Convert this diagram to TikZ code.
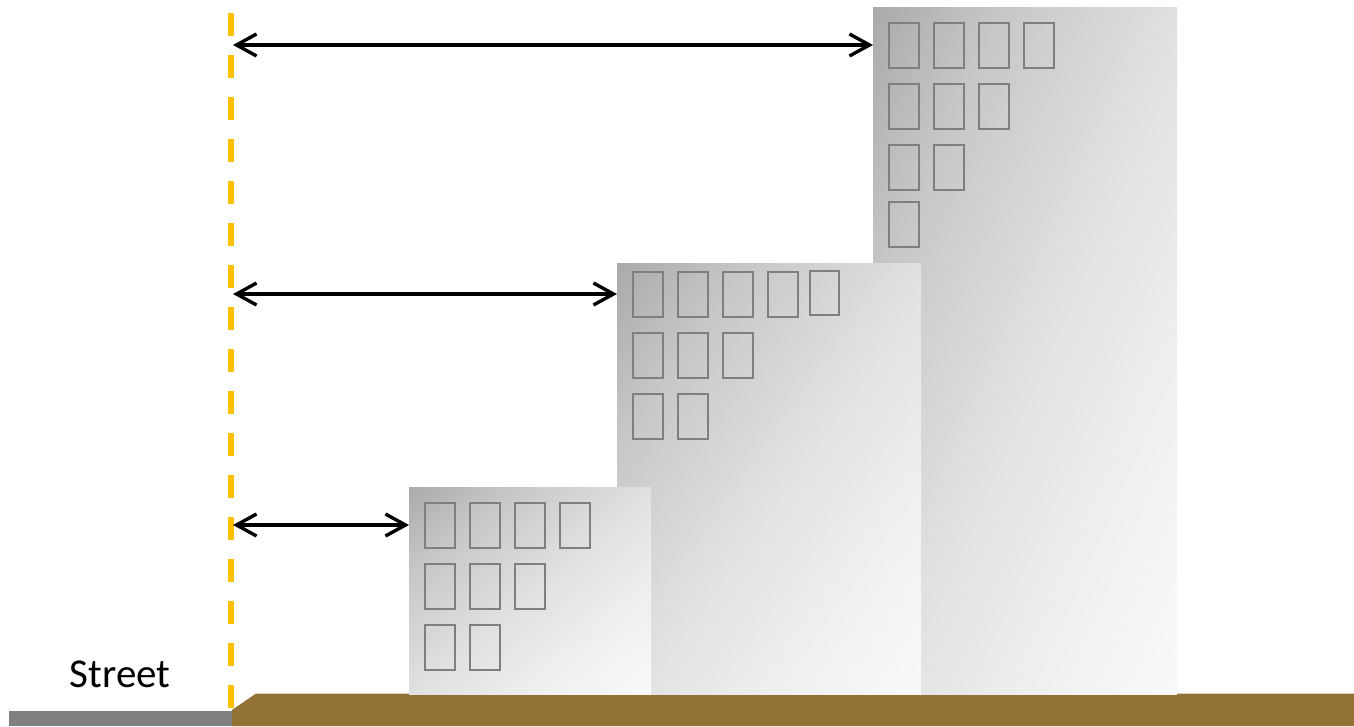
\documentclass[tikz,border=0pt]{standalone}
\usepackage{fontspec}
\setmainfont{Carlito}
\usetikzlibrary{arrows.meta}

\definecolor{facA}{HTML}{AAAAAA}
\definecolor{facB}{HTML}{C6C7C8}
\definecolor{facC}{HTML}{DEE0E2}
\definecolor{facD}{HTML}{EEEFF0}
\definecolor{facE}{HTML}{F8F9F9}
\definecolor{winGray}{HTML}{7F7F7F}
\definecolor{setbackYellow}{HTML}{FFC000}
\definecolor{groundBrown}{HTML}{937335}
\definecolor{streetGray}{HTML}{808080}

% diagonal silver facade gradient; on a square shaded at -45 degrees
% the corners fall at 14.6bp (top left) and 85.4bp (bottom right)
\pgfdeclarehorizontalshading{facade}{100bp}{%
  color(0bp)=(facA); color(14.6bp)=(facA); color(29.5bp)=(facB);
  color(50bp)=(facC); color(67.7bp)=(facD); color(85.4bp)=(facE);
  color(100bp)=(facE)}

% shade a 100x100 square, stretched onto the frame of a building node
\newcommand\paintfacade[3]{%
  \begin{scope}[transform canvas={shift={(#1.north west)}, xscale=#2, yscale=#3}]
    \shade[shading=facade, shading angle=-45] (0,0) rectangle (100,100);
  \end{scope}}

\tikzset{
  building/.style={inner sep=0pt, outer sep=0pt, anchor=north west, draw=none},
  win/.style={draw=winGray, line width=2.8pt},
  dim/.style={{Straight Barb[length=20pt,width=22pt]}-{Straight Barb[length=20pt,width=22pt]},
    line width=3.4pt, black},
  setback/.style={draw=setbackYellow, line width=6pt, dash pattern=on 23pt off 19pt},
  streetlabel/.style={anchor=base, font=\fontsize{41}{49}\selectfont, inner sep=0pt}
}

\begin{document}
\begin{tikzpicture}[x=1pt,y=-1pt]
\useasboundingbox (0,0) rectangle (1354,726);

% ground and street
\fill[streetGray] (9,711) rectangle (232,726);
\fill[groundBrown] (232,710) -- (256,693.5) -- (1354,693.5) -- (1354,726) -- (232,726) -- cycle;

% building frames
\node[building, minimum width=304pt, minimum height=687pt] (b3) at (873,7) {};
\node[building, minimum width=304pt, minimum height=431pt] (b2) at (617,263) {};
\node[building, minimum width=242pt, minimum height=207pt] (b1) at (409,487) {};

% facades, tallest at the back
\paintfacade{b3}{3.04}{6.87}
\paintfacade{b2}{3.04}{4.31}
\paintfacade{b1}{2.42}{2.07}

% windows: left x / top y / count per row
\foreach \x/\y/\n in {888/22/4, 888/83/3, 888/144/2, 888/201/1,
                      632/271/4, 632/332/3, 632/393/2,
                      424/502/4, 424/563/3, 424/624/2}
  \foreach \i in {1,...,\n}
    \draw[win] ({\x+45*(\i-1)+1},{\y+1}) rectangle ++(30,45);
\draw[win] (810,271) rectangle ++(29,44);

% setback line
\coordinate (lt) at (231,13);
\coordinate (lb) at (231,709);
\draw[setback] (lt) -- (lb);

% setback distances
\coordinate (a3) at (233,45);
\coordinate (a2) at (233,294);
\coordinate (a1) at (233,525);
\draw[dim] (a3) -- (a3 -| b3.west);
\draw[dim] (a2) -- (a2 -| b2.west);
\draw[dim] (a1) -- (a1 -| b1.west);

\node[streetlabel] (street) at (120,687) {Street};
\end{tikzpicture}
\end{document}
